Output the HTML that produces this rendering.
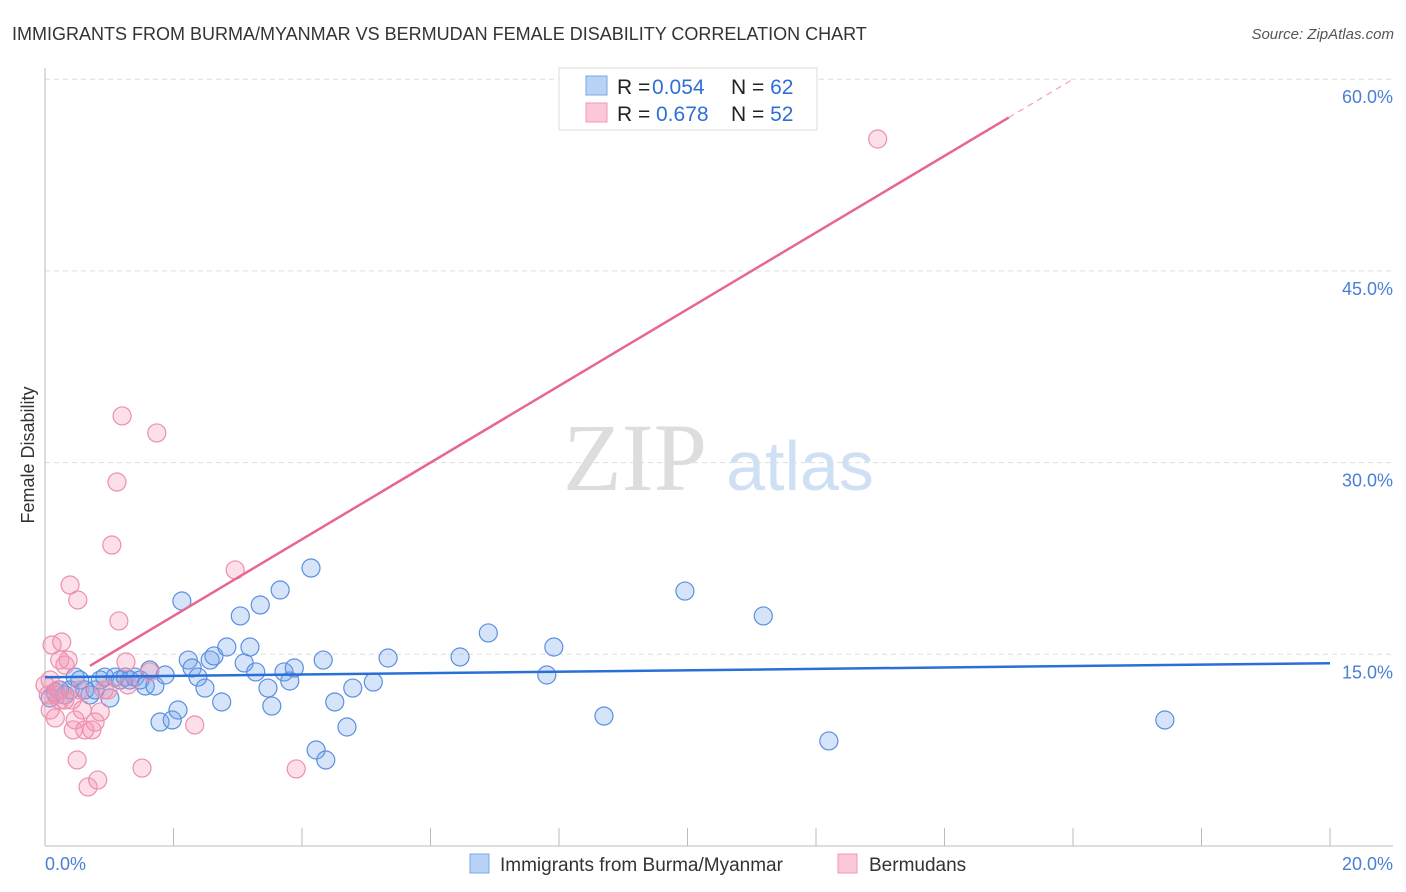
<!DOCTYPE html>
<html><head><meta charset="utf-8">
<style>
body{margin:0;background:#fff;font-family:"Liberation Sans",sans-serif;}
#wrap{position:relative;width:1406px;height:892px;overflow:hidden;}
</style></head>
<body>
<div id="wrap">
<svg id="chart" width="1406" height="892">
<text x="12" y="40" font-size="18" fill="#333">IMMIGRANTS FROM BURMA/MYANMAR VS BERMUDAN FEMALE DISABILITY CORRELATION CHART</text>
<text x="1394" y="39" font-size="15" fill="#555" font-style="italic" text-anchor="end">Source: ZipAtlas.com</text>
<text x="635" y="490" font-size="96" fill="#ddd" font-family="Liberation Serif,serif" text-anchor="middle">ZIP</text>
<text x="800" y="490" font-size="70" fill="#cfe0f5" text-anchor="middle">atlas</text>
<text transform="translate(34,455) rotate(-90)" font-size="18" fill="#333" text-anchor="middle">Female Disability</text>
<g id="grid"></g><g id="marks"></g>
<g>
<rect x="559" y="68" width="258" height="62" fill="#fff" stroke="#ddd"/>
<rect x="586" y="76" width="21" height="19" fill="#b8d3f5" stroke="#7aa7e6"/>
<rect x="586" y="103" width="21" height="19" fill="#fcc8d7" stroke="#ee9ab5"/>
<text x="617" y="94" font-size="21" fill="#222">R = <tspan x="652" fill="#2f6fd6">0.054</tspan><tspan x="731">N = </tspan><tspan fill="#2f6fd6">62</tspan></text>
<text x="617" y="121" font-size="21" fill="#222">R = <tspan x="656" fill="#2f6fd6">0.678</tspan><tspan x="731">N = </tspan><tspan fill="#2f6fd6">52</tspan></text>
</g>
<g>
<rect x="470" y="854" width="19" height="19" fill="#b8d3f5" stroke="#7aa7e6"/>
<text x="500" y="871" font-size="19" fill="#333">Immigrants from Burma/Myanmar</text>
<rect x="838" y="854" width="19" height="19" fill="#fcc8d7" stroke="#ee9ab5"/>
<text x="869" y="871" font-size="19" fill="#333">Bermudans</text>
</g>
</svg>
</div>
<script>
const yTicks=[15,30,45,60];
const yTickLabels=["15.0%","30.0%","45.0%","60.0%"];
const xTicks=[0,2,4,6,8,10,12,14,16,18,20];
const blueX=[0.08,0.16,0.23,0.31,0.39,0.47,0.54,0.62,0.70,0.78,0.86,0.93,1.01,1.09,1.17,1.25,1.32,1.40,1.48,1.56,1.63,1.71,1.79,1.87,1.98,2.07,2.13,2.23,2.29,2.38,2.49,2.57,2.63,2.75,2.83,3.04,3.10,3.19,3.28,3.35,3.47,3.53,3.66,3.72,3.81,3.88,4.14,4.22,4.33,4.37,4.51,4.70,4.79,5.11,5.34,6.46,6.90,7.81,7.92,8.70,9.96,11.18,12.20,17.43];
const blueY=[11.58,12.05,12.21,11.82,12.21,13.22,12.99,12.21,11.82,12.21,12.99,13.22,11.58,13.22,12.99,13.22,12.99,13.22,12.99,12.52,13.77,12.52,9.70,13.38,9.86,10.64,19.17,14.55,13.93,13.22,12.36,14.55,14.87,11.27,15.57,18.00,14.32,15.57,13.62,18.86,12.36,10.95,20.03,13.62,12.91,13.93,21.75,7.51,14.55,6.73,11.27,9.31,12.36,12.83,14.71,14.79,16.67,13.38,15.57,10.17,19.95,18.00,8.22,9.86];
const pinkX=[0.0,0.05,0.08,0.08,0.11,0.16,0.17,0.20,0.23,0.23,0.26,0.31,0.31,0.36,0.39,0.42,0.44,0.47,0.50,0.51,0.54,0.58,0.62,0.67,0.73,0.78,0.82,0.86,0.92,0.98,1.04,1.12,1.15,1.20,1.26,1.29,1.51,1.63,1.74,2.33,2.96,3.91,12.96];
const pinkY=[12.60,11.82,12.99,10.64,15.73,10.02,11.82,12.21,14.55,11.42,15.96,14.16,11.42,14.55,20.42,11.42,9.08,9.86,6.73,19.25,12.21,10.64,9.08,4.62,9.08,9.70,5.16,10.49,12.21,12.21,23.55,28.48,17.61,33.65,14.40,12.60,6.10,13.62,32.32,9.47,21.60,6.03,55.32];
const blueLine=[13.2,0.055]; // intercept, slope
const pinkLine=[12.0,3.0];
const NS="http://www.w3.org/2000/svg";
function sx(v){return 45+v*64.25;}
function sy(v){return 846-v*12.78;}
function mk(tag,attrs,parent){const e=document.createElementNS(NS,tag);for(const k in attrs)e.setAttribute(k,attrs[k]);parent.appendChild(e);return e;}
const grid=document.getElementById('grid'),marks=document.getElementById('marks');
yTicks.forEach((t,i)=>{
 const l=mk('line',{x1:45,x2:1393,y1:sy(t),y2:sy(t),stroke:'#ddd','stroke-dasharray':'5,4'},grid);
 
 
 const tx=mk('text',{x:1393,y:sy(t)+24,'font-size':18,fill:'#4a7fd4','text-anchor':'end'},grid);
 tx.textContent=yTickLabels[i];
 
 
});
const ax=mk('line',{x1:45,x2:45,y1:68,y2:846,stroke:'#bbb'},grid);


const bx=mk('line',{x1:45,x2:1393,y1:846,y2:846,stroke:'#bbb'},grid);


xTicks.forEach(t=>{
 const l=mk('line',{x1:sx(t),x2:sx(t),y1:828,y2:846,stroke:'#bbb'},grid);
 
 
});
const xl0=mk('text',{x:45,y:870,'font-size':18,fill:'#4a7fd4'},grid);xl0.textContent='0.0%';


const xl1=mk('text',{x:1393,y:870,'font-size':18,fill:'#4a7fd4','text-anchor':'end'},grid);xl1.textContent='20.0%';


blueX.forEach((x,i)=>{
 const c=mk('circle',{cx:sx(x),cy:sy(blueY[i]),r:9,fill:'rgba(120,165,235,0.3)',stroke:'#5b8fe0','stroke-width':1.2},marks);
 
 
});
pinkX.forEach((x,i)=>{
 const c=mk('circle',{cx:sx(x),cy:sy(pinkY[i]),r:9,fill:'rgba(245,150,180,0.3)',stroke:'#ec90ae','stroke-width':1.2},marks);
 
 
});
const bl=mk('line',{x1:sx(0),y1:sy(blueLine[0]),x2:sx(20),y2:sy(blueLine[0]+blueLine[1]*20),stroke:'#2a6fd8','stroke-width':2.5},marks);


const pl=mk('line',{x1:sx(0.7),y1:sy(pinkLine[0]+pinkLine[1]*0.7),x2:sx(15),y2:sy(pinkLine[0]+pinkLine[1]*15),stroke:'#e8668f','stroke-width':2.5},marks);


const pd=mk('line',{x1:sx(15),y1:sy(pinkLine[0]+pinkLine[1]*15),x2:sx(16.0),y2:sy(pinkLine[0]+pinkLine[1]*16.0),stroke:'#f0a0b8','stroke-width':1.2,'stroke-dasharray':'6,5'},marks);


</script>
</body></html>
